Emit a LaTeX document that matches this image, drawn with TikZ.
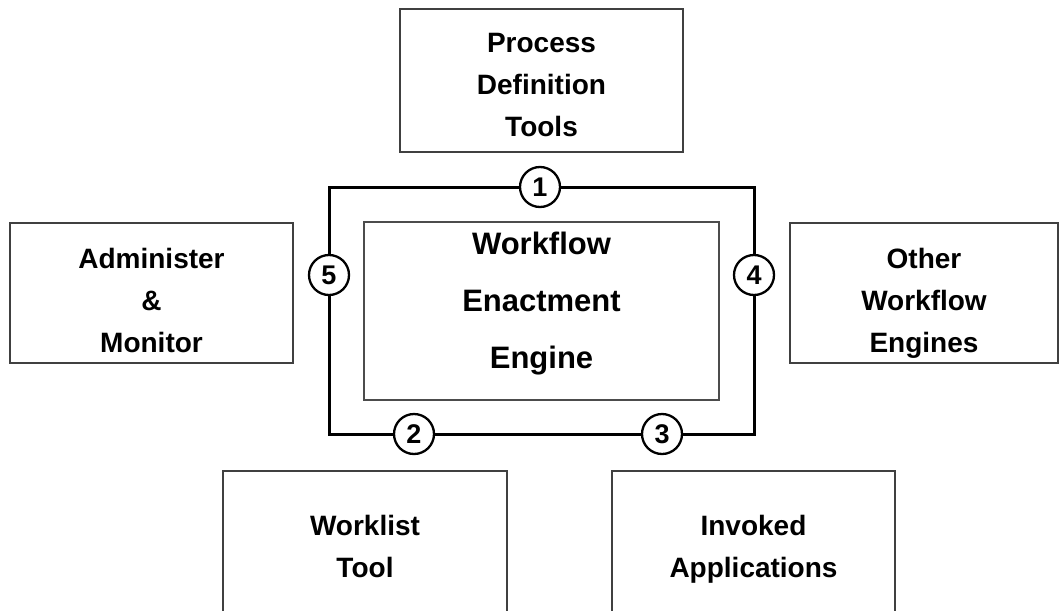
\documentclass[tikz,border=0pt]{standalone}
\usepackage{fontspec}
\setmainfont{Liberation Sans}
\begin{document}
\begin{tikzpicture}[x=1pt,y=-1pt,
  box/.style={draw=black!75, line width=1.4pt, rectangle, inner sep=0pt},
  txt/.style={font=\bfseries\fontsize{28}{42}\selectfont, align=center, inner sep=0pt, text depth=0pt},
  bigtxt/.style={font=\bfseries\fontsize{31}{57}\selectfont, align=center, inner sep=0pt, text depth=0pt},
  iface/.style={circle, draw=black, line width=2.3pt, fill=white, minimum size=40pt, inner sep=0pt, font=\bfseries\fontsize{27}{27}\selectfont},
  loopline/.style={draw=black, line width=3pt}]
\useasboundingbox (0,0) rectangle (1062,610);
% boxes
\node[box, minimum width=283pt, minimum height=143pt] (pdt) at (541.5,80.5) {};
\node[box, minimum width=283pt, minimum height=140pt] (adm) at (151.5,293) {};
\node[box, minimum width=268pt, minimum height=140pt] (oth) at (924,293) {};
\node[box, draw=black!70, line width=1.2pt, minimum width=355pt, minimum height=178pt] (eng) at (541.5,311) {};
\node[box, minimum width=284pt, minimum height=169pt] (wl) at (365,555.5) {};
\node[box, minimum width=283pt, minimum height=169pt] (inv) at (753.5,555.5) {};
% texts
\node[txt] (pdt-t) at (541.5,85) {Process\\Definition\\Tools};
\node[txt] (adm-t) at (151.5,300) {Administer\\\&\\Monitor};
\node[txt] (oth-t) at (924,300) {Other\\Workflow\\Engines};
\node[bigtxt] (eng-t) at (541.5,300) {Workflow\\Enactment\\Engine};
\node[txt] (wl-t) at (365,546) {Worklist\\Tool};
\node[txt] (inv-t) at (753.5,546) {Invoked\\Applications};
% interface circles
\node[iface] (c1) at (540,187) {1};
\node[iface] (c2) at (414,434) {2};
\node[iface] (c3) at (662,434) {3};
\node[iface] (c4) at (754,275) {4};
\node[iface] (c5) at (329,275) {5};
% loop
\draw[loopline] (c5) |- (c1);
\draw[loopline] (c1) -| (c4);
\draw[loopline] (c4) |- (c3);
\draw[loopline] (c3) -- (c2);
\draw[loopline] (c2) -| (c5);
\end{tikzpicture}
\end{document}
